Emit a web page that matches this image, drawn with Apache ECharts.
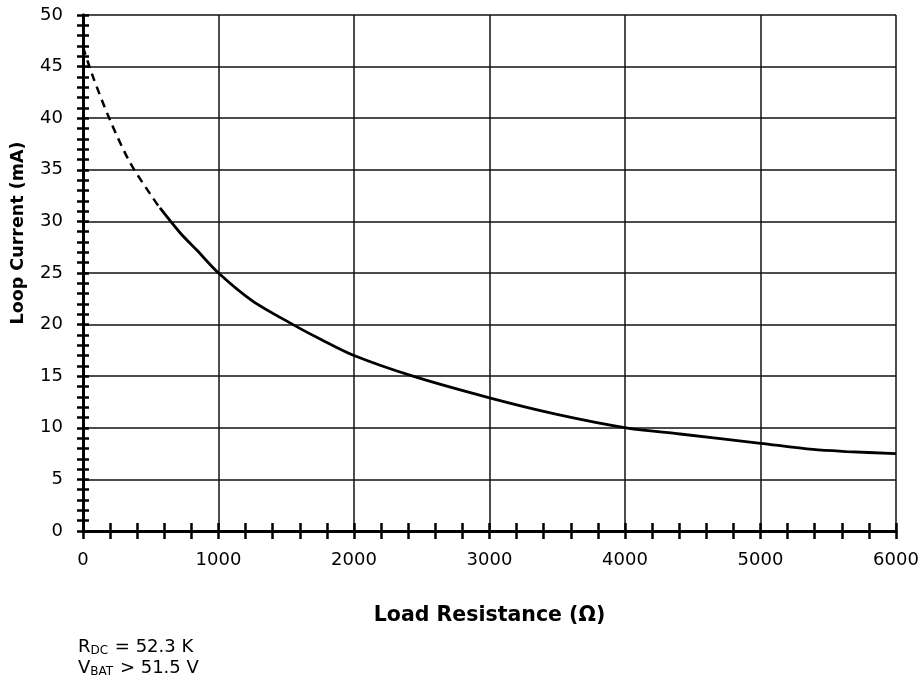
<!DOCTYPE html>
<html>
<head>
<meta charset="utf-8">
<script src="https://cdn.jsdelivr.net/npm/echarts@6/dist/echarts.min.js"></script>
<style>html,body{margin:0;padding:0;background:#fff}#c{width:918px;height:679px}</style>
</head>
<body>
<div id="c"></div>
<script>
// Data
const dashedR = [0, 74, 200, 347, 509, 568];
const dashedI = [46.9, 44.0, 39.8, 35.7, 32.4, 31.3];
const solidR = [568, 716, 841, 1000, 1250, 1550, 1750, 2000, 2435, 3000, 3498, 4007, 4406, 5000, 5387, 5638, 6000];
const solidI = [31.3, 28.9, 27.2, 25.0, 22.3, 20.0, 18.6, 17.0, 15.0, 12.9, 11.3, 10.0, 9.4, 8.5, 7.9, 7.7, 7.5];
const xTicks = [0, 1000, 2000, 3000, 4000, 5000, 6000];
const yTicks = [0, 5, 10, 15, 20, 25, 30, 35, 40, 45, 50];

const FONT = 'DejaVu Sans';
const chart = echarts.init(document.getElementById('c'), null, {renderer: 'canvas'});

function xAxisBase(inside) {
  return {
    type: 'value', position: 'bottom', min: xTicks[0], max: xTicks[xTicks.length - 1],
    interval: xTicks[1] - xTicks[0],
    axisLine: {show: true, onZero: false, lineStyle: {color: '#000', width: 3}},
    axisTick: {show: true, inside: inside, length: 8, lineStyle: {color: '#000', width: 2.5}},
    minorTick: {show: true, splitNumber: 5, length: 8, lineStyle: {color: '#000', width: 2.5}},
    splitLine: {show: !inside, lineStyle: {color: '#111', width: 1.5}},
    axisLabel: {show: !inside, color: '#000', fontFamily: FONT, fontSize: 18, margin: 20,
      formatter: v => String(v)}
  };
}
function yAxisBase(inside) {
  return {
    type: 'value', position: 'left', min: yTicks[0], max: yTicks[yTicks.length - 1],
    interval: yTicks[1] - yTicks[0],
    axisLine: {show: true, onZero: false, lineStyle: {color: '#000', width: 3}},
    axisTick: {show: true, inside: inside, length: 6, lineStyle: {color: '#000', width: 2.5}},
    minorTick: {show: true, splitNumber: 5, length: 6, lineStyle: {color: '#000', width: 2.5}},
    splitLine: {show: !inside, lineStyle: {color: '#111', width: 1.5}},
    axisLabel: {show: !inside, color: '#000', fontFamily: FONT, fontSize: 18, margin: 20,
      formatter: v => String(v)}
  };
}

const xa0 = xAxisBase(false);
xa0.name = 'Load Resistance (\u03A9)';
xa0.nameLocation = 'middle';
xa0.nameGap = 74;
xa0.nameTextStyle = {color: '#000', fontFamily: FONT, fontWeight: 'bold', fontSize: 20.5};

const subRich = {
  m: {fontFamily: FONT, fontSize: 18, color: '#000', lineHeight: 20},
  s: {fontFamily: FONT, fontSize: 12, color: '#000', lineHeight: 20, verticalAlign: 'bottom', padding: [0, 1, 0, 0]}
};

const option = {
  backgroundColor: '#fff',
  animation: false,
  grid: {left: 83, right: 22, top: 15, bottom: 148, containLabel: false, outerBoundsMode: 'none'},
  xAxis: [xa0, xAxisBase(true)],
  yAxis: [yAxisBase(false), yAxisBase(true)],
  series: [
    {
      type: 'line', xAxisIndex: 0, yAxisIndex: 0, symbol: 'none', smooth: 0.3,
      data: dashedR.map((r, i) => [r, dashedI[i]]),
      lineStyle: {color: '#000', width: 2.5, type: [8, 6]}
    },
    {
      type: 'line', xAxisIndex: 0, yAxisIndex: 0, symbol: 'none', smooth: 0.3,
      data: solidR.map((r, i) => [r, solidI[i]]),
      lineStyle: {color: '#000', width: 2.8}
    }
  ],
  graphic: [
    {
      type: 'text', x: 18, y: 233, rotation: Math.PI / 2,
      style: {
        text: 'Loop Current (mA)', fill: '#000', align: 'center', verticalAlign: 'middle',
        font: 'bold 17.5px "DejaVu Sans"'
      }
    },
    {
      type: 'text', left: 78, top: 638,
      style: {text: '{m|R}{s|DC}{m| = 52.3 K}', rich: subRich}
    },
    {
      type: 'text', left: 78, top: 659,
      style: {text: '{m|V}{s|BAT}{m| > 51.5 V}', rich: subRich}
    }
  ]
};
chart.setOption(option);
</script>
</body>
</html>
